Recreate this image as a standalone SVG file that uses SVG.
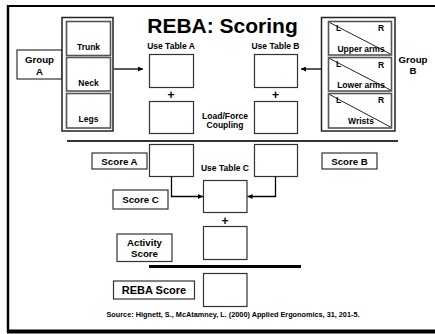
<svg xmlns="http://www.w3.org/2000/svg" width="435" height="334" viewBox="0 0 435 334">
  <defs>
    <marker id="arrow" viewBox="0 0 10 10" refX="10" refY="5" markerWidth="5" markerHeight="5" markerUnits="userSpaceOnUse" orient="auto">
      <path d="M0,0 L10,5 L0,10 z" fill="#000"/>
    </marker>
    <style>
      text { font-family: "Liberation Sans", Arial, sans-serif; font-weight: bold; fill: #000; text-anchor: middle; }
      .title { font-size: 21px; }
      .lbl { font-size: 8.5px; }
      .score { font-size: 9.7px; }
      .plus { font-size: 12px; }
      .big { font-size: 11px; }
      .src { font-size: 7.3px; }
      .box { fill: #fff; stroke: #333; stroke-width: 1.2; }
      .tag { fill: #fff; stroke: #333; stroke-width: 1.2; }
      .frame { fill: #fff; stroke: #222; stroke-width: 1.5; }
      .inner { fill: #fff; stroke: #555; stroke-width: 1.6; }
      .diag { stroke: #222; stroke-width: 1; }
      .conn { fill: none; stroke: #000; stroke-width: 1.3; }
    </style>
  </defs>

  <rect width="435" height="334" fill="#fff"/>

  <!-- page frame with heavier bottom edge -->
  <g id="page-frame" fill="none" stroke="#000">
    <line x1="8" y1="6" x2="435" y2="6" stroke-width="2"/>
    <line x1="8" y1="5" x2="8" y2="333" stroke-width="2.4"/>
    <line x1="7" y1="331.5" x2="435" y2="331.5" stroke-width="4"/>
  </g>

  <text class="title" x="222.5" y="33">REBA: Scoring</text>

  <!-- Group A -->
  <g id="group-a-label">
    <rect class="tag" x="17" y="50" width="45" height="29"/>
    <text class="score" x="39.5" y="62.5">Group</text>
    <text class="score" x="39.5" y="74.5">A</text>
  </g>
  <g id="group-a">
    <rect class="frame" x="62" y="17.5" width="51" height="113.5"/>
    <rect class="inner" x="66.5" y="21.5" width="44" height="34"/>
    <text class="lbl" x="88.5" y="50">Trunk</text>
    <rect class="inner" x="66.5" y="57.5" width="44" height="33.5"/>
    <text class="lbl" x="88.5" y="86">Neck</text>
    <rect class="inner" x="66.5" y="93.5" width="44" height="34.5"/>
    <text class="lbl" x="88.5" y="121.5">Legs</text>
  </g>

  <!-- Group B -->
  <g id="group-b">
    <rect class="frame" x="321.5" y="17.5" width="73.5" height="113.5"/>
    <rect class="inner" x="328.5" y="21.5" width="63" height="33.5"/>
    <line class="diag" x1="329.5" y1="22.5" x2="390.5" y2="54"/>
    <text class="lbl" x="336" y="31" style="text-anchor:start">L</text>
    <text class="lbl" x="381" y="31">R</text>
    <text class="lbl" x="361" y="51.5">Upper arms</text>
    <rect class="inner" x="328.5" y="57.5" width="63" height="33.5"/>
    <line class="diag" x1="329.5" y1="58.5" x2="390.5" y2="90"/>
    <text class="lbl" x="336" y="67" style="text-anchor:start">L</text>
    <text class="lbl" x="381" y="67.5">R</text>
    <text class="lbl" x="361" y="87.5">Lower arms</text>
    <rect class="inner" x="328.5" y="93.5" width="63" height="34.5"/>
    <line class="diag" x1="329.5" y1="94.5" x2="390.5" y2="127"/>
    <text class="lbl" x="336" y="103" style="text-anchor:start">L</text>
    <text class="lbl" x="381" y="103">R</text>
    <text class="lbl" x="361" y="123.5">Wrists</text>
  </g>
  <g id="group-b-label">
    <text class="score" x="413" y="62.5">Group</text>
    <text class="score" x="413" y="74">B</text>
  </g>

  <!-- Table A -->
  <g id="table-a">
    <text class="lbl" x="171" y="49">Use Table A</text>
    <rect class="box" x="149.5" y="54.5" width="44" height="33"/>
    <text class="plus" x="171" y="99">+</text>
    <rect class="box" x="149.5" y="101.5" width="44" height="32"/>
  </g>

  <!-- Table B -->
  <g id="table-b">
    <text class="lbl" x="275.5" y="49">Use Table B</text>
    <rect class="box" x="254.5" y="54.5" width="43" height="33"/>
    <text class="plus" x="275.5" y="99">+</text>
    <rect class="box" x="254.5" y="101.5" width="43" height="32"/>
  </g>
  <g id="load-force">
    <text class="lbl" x="225" y="118.5">Load/Force</text>
    <text class="lbl" x="225" y="128">Coupling</text>
  </g>

  <line x1="67" y1="141" x2="398" y2="141" stroke="#333" stroke-width="2"/>

  <!-- Scores A and B -->
  <g id="score-a-label">
    <rect class="tag" x="92" y="153" width="55" height="16"/>
    <text class="score" x="119.5" y="164.5">Score A</text>
  </g>
  <g id="score-a">
    <rect class="box" x="149.5" y="144.5" width="44" height="32"/>
  </g>
  <g id="score-b">
    <rect class="box" x="254.5" y="144.5" width="43" height="32"/>
  </g>
  <g id="score-b-label">
    <rect class="tag" x="322" y="153" width="55" height="16"/>
    <text class="score" x="349.5" y="164.5">Score B</text>
  </g>

  <!-- Table C -->
  <g id="table-c">
    <text class="lbl" x="225" y="171">Use Table C</text>
    <rect class="box" x="203.5" y="180.5" width="43.5" height="32"/>
    <text class="plus" x="225" y="224.5">+</text>
  </g>
  <g id="score-c-label">
    <rect class="tag" x="113" y="190" width="55" height="19"/>
    <text class="score" x="140.5" y="203">Score C</text>
  </g>
  <g id="activity">
    <rect class="box" x="203.5" y="226.5" width="43.5" height="33"/>
  </g>
  <g id="activity-label">
    <rect class="tag" x="117" y="234" width="55" height="27.5"/>
    <text class="score" x="144.5" y="245.5">Activity</text>
    <text class="score" x="144.5" y="257">Score</text>
  </g>

  <line x1="149" y1="266.5" x2="301" y2="266.5" stroke="#000" stroke-width="3"/>

  <!-- Final score -->
  <g id="reba-score-label">
    <rect class="tag" x="113.5" y="281" width="81" height="18"/>
    <text class="big" x="154" y="294">REBA Score</text>
  </g>
  <g id="reba-score">
    <rect class="box" x="203.5" y="273.5" width="43.5" height="33"/>
  </g>

  <text class="src" x="233" y="317">Source: Hignett, S., McAtamney, L. (2000) Applied Ergonomics, 31, 201-5.</text>

  <!-- Connectors -->
  <g id="connectors">
    <line class="conn" x1="114" y1="69" x2="143" y2="69" marker-end="url(#arrow)" stroke-width="1.5"/>
    <line class="conn" x1="321.5" y1="69" x2="301" y2="69" marker-end="url(#arrow)" stroke-width="1.5"/>
    <polyline class="conn" points="171.5,176.5 171.5,196.5 203,196.5" marker-end="url(#arrow)"/>
    <polyline class="conn" points="275.5,176.5 275.5,196.5 247.5,196.5" marker-end="url(#arrow)"/>
  </g>
</svg>
